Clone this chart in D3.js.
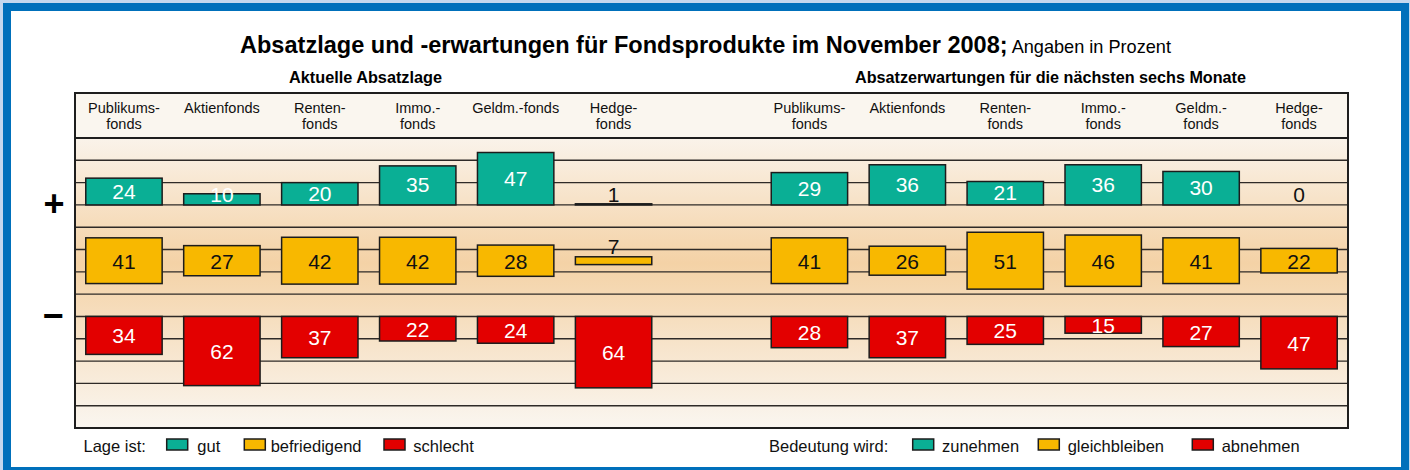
<!DOCTYPE html>
<meta charset="utf-8">
<style>
    body { margin: 0; background: #c4d8ee; }
    svg text { font-family: "Liberation Sans", Arial, sans-serif; }
</style>
<body>
<div id="chart"></div>
<script src="https://cdnjs.cloudflare.com/ajax/libs/d3/7.8.5/d3.min.js"></script>
<script>

    // data
    var catsNow = [["Publikums-", "fonds"], ["Aktienfonds"], ["Renten-", "fonds"], ["Immo.-", "fonds"], ["Geldm.-fonds"], ["Hedge-", "fonds"]];
    var catsNext = [["Publikums-", "fonds"], ["Aktienfonds"], ["Renten-", "fonds"], ["Immo.-", "fonds"], ["Geldm.-", "fonds"], ["Hedge-", "fonds"]];

    var gut = [24, 10, 20, 35, 47, 1];
    var befriedigend = [41, 27, 42, 42, 28, 7];
    var schlecht = [34, 62, 37, 22, 24, 64];

    var zunehmen = [29, 36, 21, 36, 30, 0];
    var gleichbleiben = [41, 26, 51, 46, 41, 22];
    var abnehmen = [28, 37, 25, 15, 27, 47];

    var legendNow = ["gut", "befriedigend", "schlecht"];
    var legendNext = ["zunehmen", "gleichbleiben", "abnehmen"];

    var colors = ["#0aaf95", "#f8b800", "#e30000"];

    // dims
    var W = 1410, H = 470,
        box = { left: 75, right: 1348, top: 93, head: 138, bottom: 428 };

    var svg = d3.select("#chart").append("svg")
        .attr("width", W)
        .attr("height", H);

    // blue frame
    svg.append("rect")
        .attr("x", 7).attr("y", 7)
        .attr("width", 1398).attr("height", 464)
        .attr("fill", "#fff")
        .attr("stroke", "#0070bb")
        .attr("stroke-width", 8);

    // 13 slots, one empty between the two panels
    var slots = d3.range(6).map(function (i) { return "n" + i; })
        .concat(["gap"])
        .concat(d3.range(6).map(function (i) { return "x" + i; }));

    var x = d3.scaleBand()
        .domain(slots)
        .range([box.left, box.right])
        .paddingInner(0.22)
        .paddingOuter(0.11);

    var row = d3.scaleLinear().domain([0, 13]).range([box.head, box.bottom]);
    var rh = row(1) - row(0);
    var v = d3.scaleLinear().domain([0, 100]).range([0, 5 * rh]);

    // background
    var defs = svg.append("defs");
    var grad = defs.append("linearGradient")
        .attr("id", "bg")
        .attr("gradientUnits", "userSpaceOnUse")
        .attr("x1", 0).attr("x2", 0)
        .attr("y1", box.head).attr("y2", box.bottom);
    grad.append("stop").attr("offset", 0).attr("stop-color", "#faf3ea");
    grad.append("stop").attr("offset", 0.43).attr("stop-color", "#f4d2a6");
    grad.append("stop").attr("offset", 1).attr("stop-color", "#faf6f0");

    svg.append("rect")
        .attr("x", box.left).attr("y", box.top)
        .attr("width", box.right - box.left).attr("height", box.head - box.top)
        .attr("fill", "#faf6ef");

    svg.append("rect")
        .attr("x", box.left).attr("y", box.head)
        .attr("width", box.right - box.left).attr("height", box.bottom - box.head)
        .attr("fill", "url(#bg)");

    svg.append("g").selectAll("line")
        .data(d3.range(1, 13))
        .enter().append("line")
        .attr("x1", box.left).attr("x2", box.right)
        .attr("y1", function (d) { return row(d); })
        .attr("y2", function (d) { return row(d); })
        .attr("stroke", "#2e2a27")
        .attr("stroke-width", 1.4);

    // bars
    var groups = [[gut, zunehmen], [befriedigend, gleichbleiben], [schlecht, abnehmen]];
    var bars = [];
    groups.forEach(function (g, gi) {
        g.forEach(function (series, pi) {
            series.forEach(function (val, i) {
                bars.push({ slot: (pi === 0 ? "n" : "x") + i, group: gi, value: val });
            });
        });
    });

    function barTop(d) {
        if (d.group === 0) return row(3) - v(d.value);
        if (d.group === 1) return row(5.5) - v(d.value) / 2;
        return row(8);
    }

    svg.append("g").selectAll("rect")
        .data(bars)
        .enter().append("rect")
        .attr("x", function (d) { return x(d.slot); })
        .attr("y", barTop)
        .attr("width", x.bandwidth())
        .attr("height", function (d) { return v(d.value); })
        .attr("fill", function (d) { return colors[d.group]; })
        .attr("stroke", "#1c1c1c")
        .attr("stroke-width", 1.5);

    svg.append("g").selectAll("text")
        .data(bars)
        .enter().append("text")
        .attr("x", function (d) { return x(d.slot) + x.bandwidth() / 2; })
        .attr("y", function (d) {
            var c = barTop(d) + v(d.value) / 2;
            if (d.group === 0) return Math.min(c + 7, row(3) - 3);
            if (d.group === 1 && v(d.value) < 15) return barTop(d) - 2.5;
            return c + 8;
        })
        .attr("text-anchor", "middle")
        .attr("font-size", 21)
        .attr("fill", function (d) {
            if (d.group === 1 || d.value < 5) return "#111";
            return "#fff";
        })
        .text(function (d) { return d.value; });

    // frame lines
    svg.append("rect")
        .attr("x", box.left).attr("y", box.top)
        .attr("width", box.right - box.left).attr("height", box.bottom - box.top)
        .attr("fill", "none")
        .attr("stroke", "#1e1e1e")
        .attr("stroke-width", 2);

    svg.append("line")
        .attr("x1", box.left).attr("x2", box.right)
        .attr("y1", box.head).attr("y2", box.head)
        .attr("stroke", "#1e1e1e")
        .attr("stroke-width", 2);

    // column headers
    var heads = catsNow.map(function (c, i) { return { slot: "n" + i, lines: c }; })
        .concat(catsNext.map(function (c, i) { return { slot: "x" + i, lines: c }; }));

    svg.append("g").selectAll("text")
        .data(heads)
        .enter().append("text")
        .attr("text-anchor", "middle")
        .attr("font-size", 14.5)
        .attr("fill", "#111")
        .each(function (d) {
            var t = d3.select(this);
            d.lines.forEach(function (l, li) {
                t.append("tspan")
                    .attr("x", x(d.slot) + x.bandwidth() / 2)
                    .attr("y", 113 + li * 15.5)
                    .text(l);
            });
        });

    // titles
    var title = svg.append("text")
        .attr("x", 240).attr("y", 53)
        .attr("textLength", 931)
        .attr("lengthAdjust", "spacingAndGlyphs")
        .attr("fill", "#000");
    title.append("tspan")
        .attr("font-size", 24)
        .attr("font-weight", "bold")
        .text("Absatzlage und -erwartungen für Fondsprodukte im November 2008;");
    title.append("tspan")
        .attr("font-size", 18.5)
        .text(" Angaben in Prozent");

    svg.append("text")
        .attr("x", 289).attr("y", 83)
        .attr("font-size", 16)
        .attr("font-weight", "bold")
        .attr("textLength", 153)
        .attr("lengthAdjust", "spacingAndGlyphs")
        .text("Aktuelle Absatzlage");

    svg.append("text")
        .attr("x", 855).attr("y", 83)
        .attr("font-size", 16)
        .attr("font-weight", "bold")
        .attr("textLength", 391)
        .attr("lengthAdjust", "spacingAndGlyphs")
        .text("Absatzerwartungen für die nächsten sechs Monate");

    // + and − markers
    svg.append("text")
        .attr("x", 54).attr("y", row(3) + 11)
        .attr("text-anchor", "middle")
        .attr("font-size", 36)
        .attr("font-weight", "bold")
        .text("+");

    svg.append("text")
        .attr("x", 53).attr("y", row(8) + 12)
        .attr("text-anchor", "middle")
        .attr("font-size", 36)
        .attr("font-weight", "bold")
        .text("\u2212");

    // legends
    function legend(title, titleX, labels, boxX, textX) {
        var g = svg.append("g").attr("font-size", 16.5).attr("fill", "#111");
        g.append("text").attr("x", titleX).attr("y", 451.5).text(title);
        labels.forEach(function (l, i) {
            g.append("rect")
                .attr("x", boxX[i]).attr("y", 439)
                .attr("width", 21).attr("height", 11)
                .attr("fill", colors[i])
                .attr("stroke", "#1c1c1c")
                .attr("stroke-width", 1.5);
            g.append("text").attr("x", textX[i]).attr("y", 451.5).text(l);
        });
    }

    legend("Lage ist:", 83.5, legendNow, [166.7, 244.3, 384], [197.3, 270.7, 413.3]);
    legend("Bedeutung wird:", 769, legendNext, [912.7, 1038.3, 1192.3], [942, 1067.7, 1221.7]);

</script>
</body>
